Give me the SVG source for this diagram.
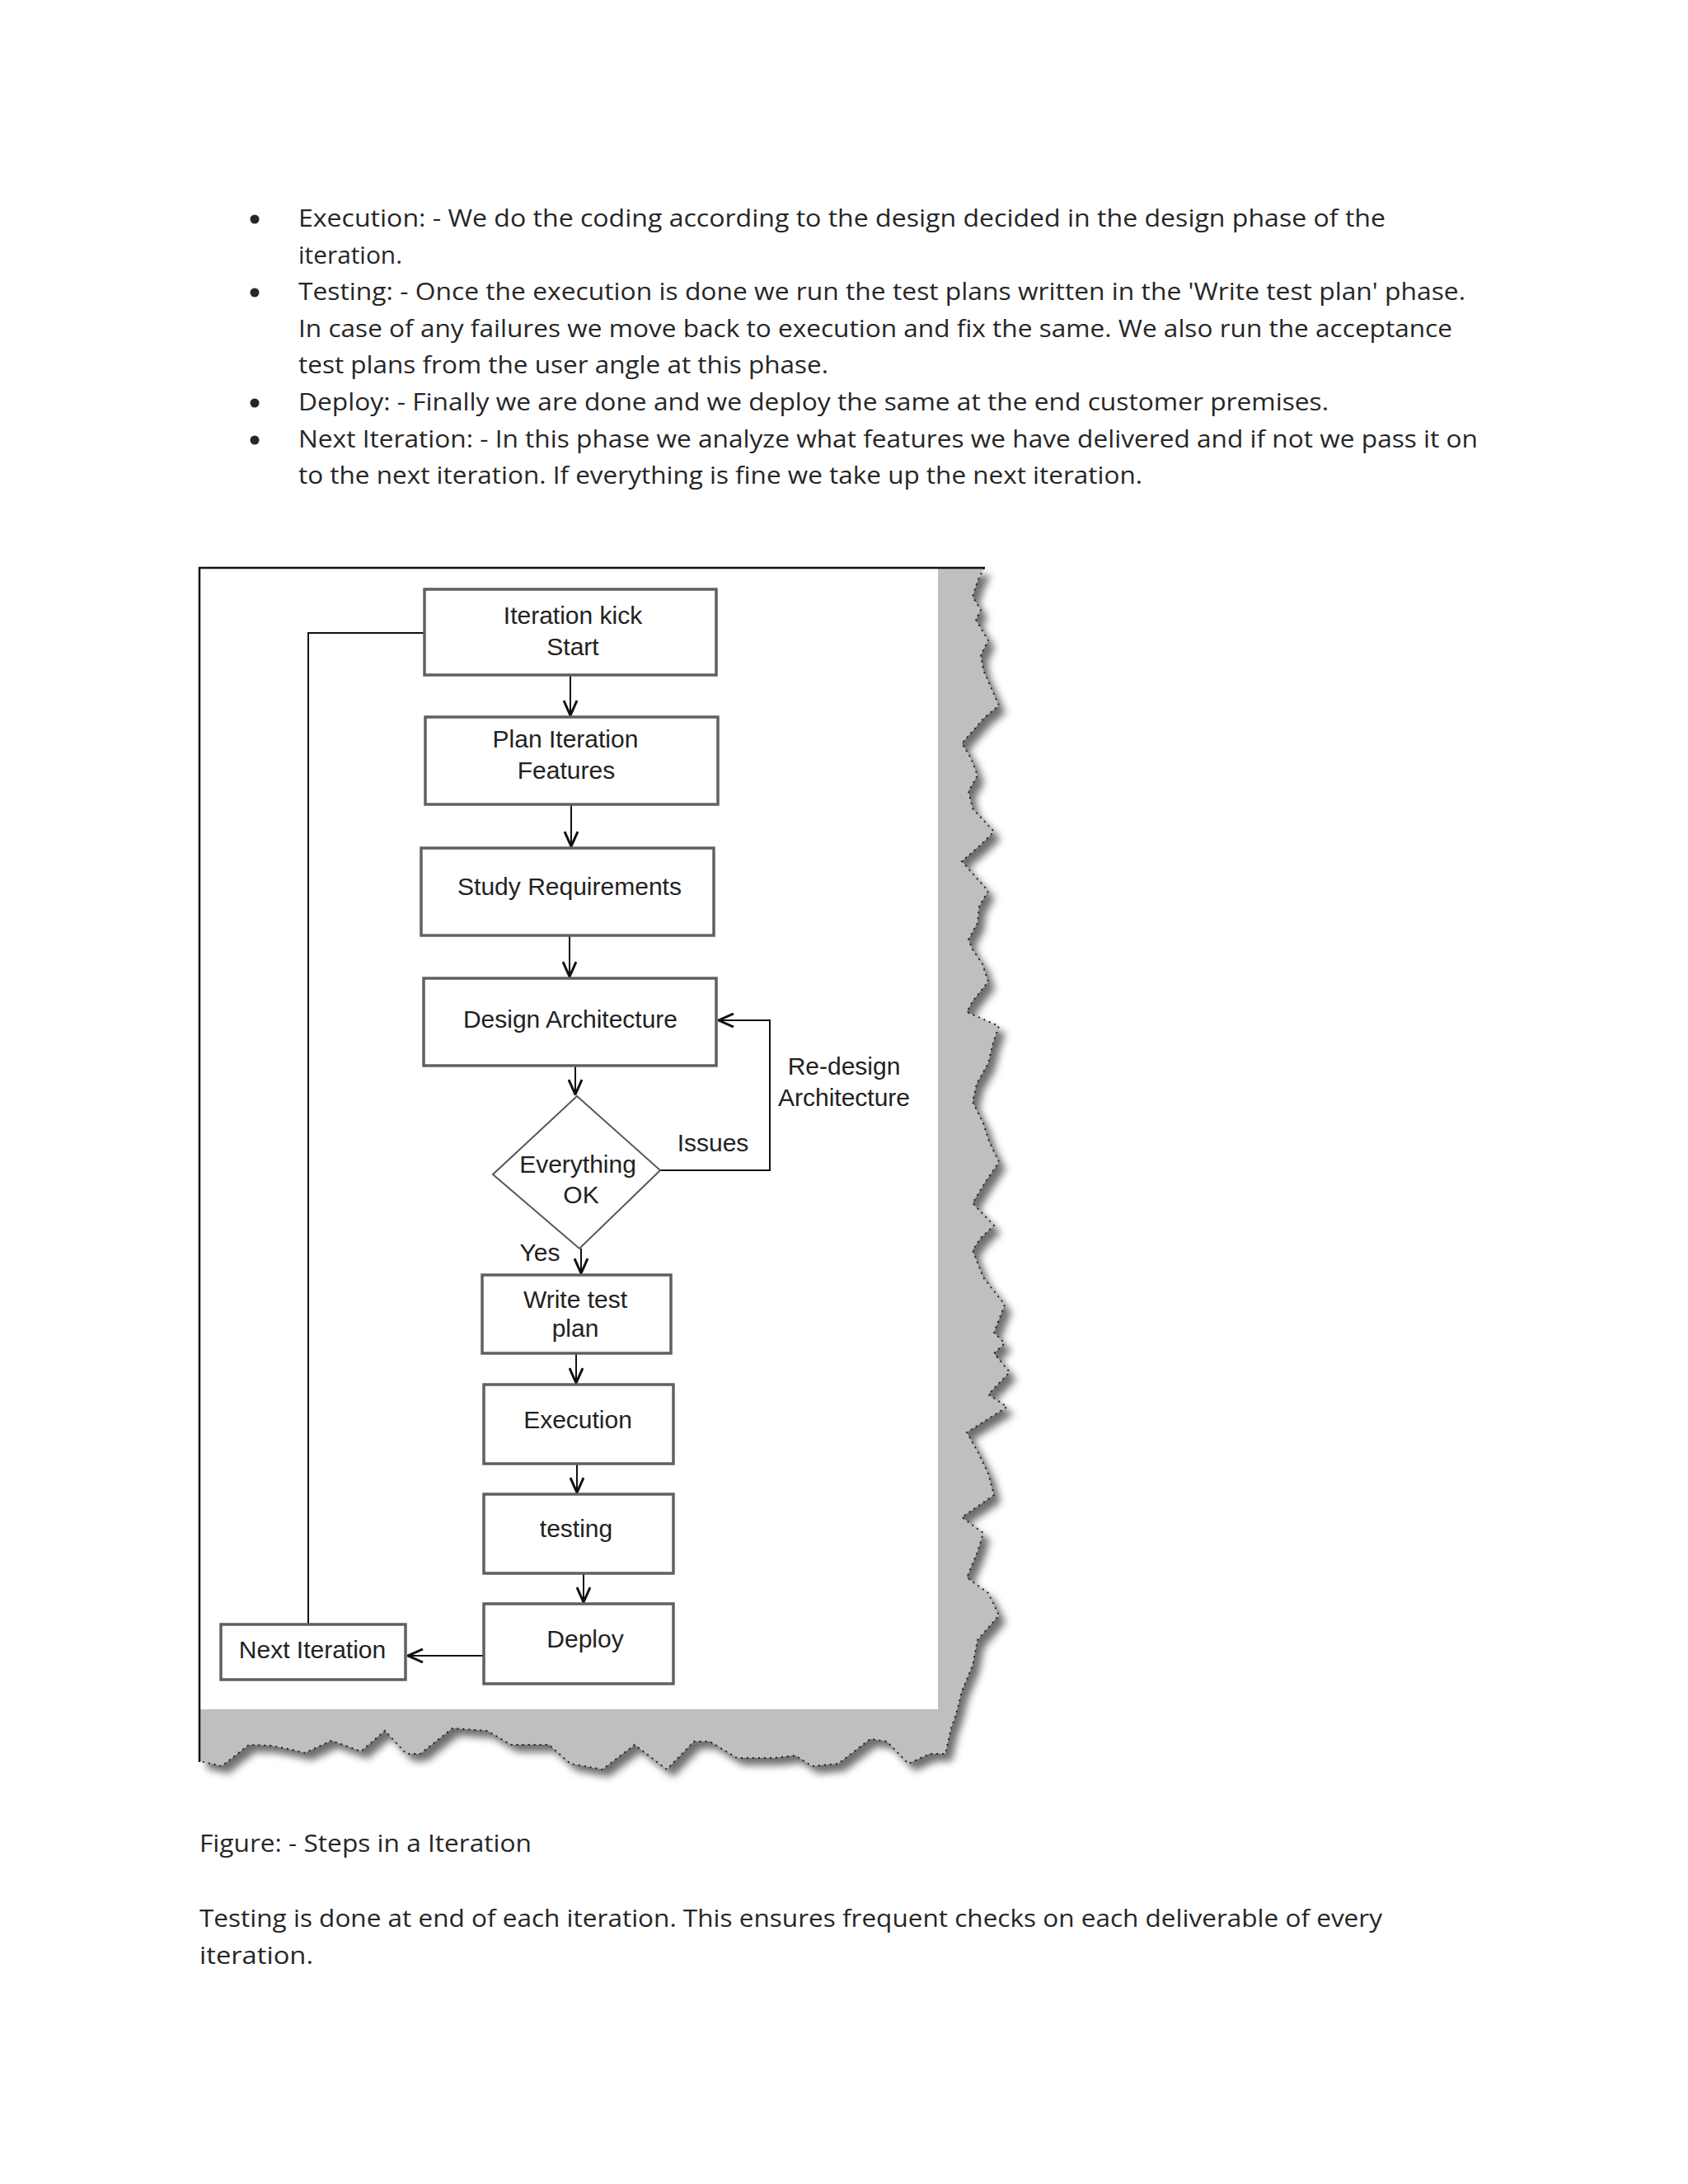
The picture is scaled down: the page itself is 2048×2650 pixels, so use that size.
<svg xmlns="http://www.w3.org/2000/svg" width="2048" height="2650" viewBox="0 0 2048 2650">
<style>
.para{font-family:"Open Sans","Noto Sans","Liberation Sans",sans-serif;font-size:29px;fill:#262626}
.lbl{font-family:"Liberation Sans",Arial,sans-serif;font-size:30px;fill:#222;text-anchor:middle}
.box{fill:#fff;stroke:#606060;stroke-width:3.5}
.dia{fill:#fff;stroke:#555;stroke-width:2}
.con{fill:none;stroke:#111;stroke-width:2}
</style>
<defs>
<marker id="ah" viewBox="0 0 20 18" refX="19" refY="9" markerWidth="20" markerHeight="18" markerUnits="userSpaceOnUse" orient="auto">
<path d="M1,1 L19,9 L1,17" fill="none" stroke="#111" stroke-width="3"/>
</marker>
<filter id="blur" x="-10%" y="-10%" width="120%" height="120%"><feGaussianBlur stdDeviation="5"/></filter>
<path id="torn" d="M242,689 L1194,689 L1186,705 L1180,724 L1190,740 L1184,752 L1199,777 L1190,795 L1193,813 L1212,856 L1195,870 L1167,902 L1178,920 L1186,941 L1175,960 L1180,981 L1206,1009 L1190,1025 L1167,1045 L1180,1060 L1199,1081 L1188,1100 L1186,1120 L1175,1140 L1180,1152 L1192,1170 L1199,1191 L1180,1215 L1173,1228 L1212,1245 L1205,1265 L1199,1290 L1185,1315 L1180,1337 L1193,1363 L1200,1385 L1212,1410 L1195,1435 L1180,1460 L1206,1487 L1190,1502 L1180,1517 L1193,1550 L1219,1583 L1206,1617 L1219,1630 L1206,1642 L1225,1665 L1199,1692 L1222,1707 L1173,1738 L1186,1761 L1199,1788 L1206,1814 L1167,1841 L1193,1860 L1186,1883 L1173,1914 L1199,1933 L1212,1960 L1186,1990 L1180,2021 L1167,2052 L1160,2080 L1154,2097 L1147,2128 L1128,2128 L1102,2140 L1076,2113 L1056,2110 L1017,2140 L985,2143 L965,2130 L939,2133 L894,2133 L861,2113 L842,2113 L809,2147 L770,2117 L731,2147 L692,2140 L666,2117 L620,2117 L591,2100 L549,2097 L510,2128 L493,2128 L467,2100 L438,2125 L402,2112 L370,2127 L354,2123 L328,2118 L302,2117 L269,2143 L243,2137 Z"/>
</defs>
<rect width="2048" height="2650" fill="#fff"/>

<g id="bullets">
<circle cx="309" cy="266" r="5.5" fill="#262626"/>
<circle cx="309" cy="355" r="5.5" fill="#262626"/>
<circle cx="309" cy="489" r="5.5" fill="#262626"/>
<circle cx="309" cy="534" r="5.5" fill="#262626"/>
<text class="para" x="362" y="275" textLength="1319" lengthAdjust="spacingAndGlyphs">Execution: - We do the coding according to the design decided in the design phase of the</text>
<text class="para" x="362" y="320" textLength="126" lengthAdjust="spacingAndGlyphs">iteration.</text>
<text class="para" x="362" y="364" textLength="1416" lengthAdjust="spacingAndGlyphs">Testing: - Once the execution is done we run the test plans written in the 'Write test plan' phase.</text>
<text class="para" x="362" y="409" textLength="1400" lengthAdjust="spacingAndGlyphs">In case of any failures we move back to execution and fix the same. We also run the acceptance</text>
<text class="para" x="362" y="453" textLength="643" lengthAdjust="spacingAndGlyphs">test plans from the user angle at this phase.</text>
<text class="para" x="362" y="498" textLength="1250" lengthAdjust="spacingAndGlyphs">Deploy: - Finally we are done and we deploy the same at the end customer premises.</text>
<text class="para" x="362" y="543" textLength="1431" lengthAdjust="spacingAndGlyphs">Next Iteration: - In this phase we analyze what features we have delivered and if not we pass it on</text>
<text class="para" x="362" y="587" textLength="1024" lengthAdjust="spacingAndGlyphs">to the next iteration. If everything is fine we take up the next iteration.</text>
</g>

<g id="frame">
<use href="#torn" transform="translate(8,9)" fill="#4a4a4a" opacity="0.8" filter="url(#blur)"/>
<use href="#torn" fill="#bfbfbf"/>
<path d="M1194,689 L1186,705 L1180,724 L1190,740 L1184,752 L1199,777 L1190,795 L1193,813 L1212,856 L1195,870 L1167,902 L1178,920 L1186,941 L1175,960 L1180,981 L1206,1009 L1190,1025 L1167,1045 L1180,1060 L1199,1081 L1188,1100 L1186,1120 L1175,1140 L1180,1152 L1192,1170 L1199,1191 L1180,1215 L1173,1228 L1212,1245 L1205,1265 L1199,1290 L1185,1315 L1180,1337 L1193,1363 L1200,1385 L1212,1410 L1195,1435 L1180,1460 L1206,1487 L1190,1502 L1180,1517 L1193,1550 L1219,1583 L1206,1617 L1219,1630 L1206,1642 L1225,1665 L1199,1692 L1222,1707 L1173,1738 L1186,1761 L1199,1788 L1206,1814 L1167,1841 L1193,1860 L1186,1883 L1173,1914 L1199,1933 L1212,1960 L1186,1990 L1180,2021 L1167,2052 L1160,2080 L1154,2097 L1147,2128 L1128,2128 L1102,2140 L1076,2113 L1056,2110 L1017,2140 L985,2143 L965,2130 L939,2133 L894,2133 L861,2113 L842,2113 L809,2147 L770,2117 L731,2147 L692,2140 L666,2117 L620,2117 L591,2100 L549,2097 L510,2128 L493,2128 L467,2100 L438,2125 L402,2112 L370,2127 L354,2123 L328,2118 L302,2117 L269,2143 L243,2137" fill="none" stroke="#222" stroke-width="2" stroke-dasharray="2 5"/>
<rect x="243" y="690" width="895" height="1384" fill="#fff"/>
<path d="M1195,689 L242,689 L242,2138" fill="none" stroke="#111" stroke-width="2.5"/>
</g>

<g id="connectors">
<line class="con" x1="692" y1="820" x2="692" y2="868" marker-end="url(#ah)"/>
<line class="con" x1="693" y1="977" x2="693" y2="1027" marker-end="url(#ah)"/>
<line class="con" x1="691" y1="1136" x2="691" y2="1185" marker-end="url(#ah)"/>
<line class="con" x1="698" y1="1294" x2="698" y2="1328" marker-end="url(#ah)"/>
<line class="con" x1="705" y1="1515" x2="705" y2="1545" marker-end="url(#ah)"/>
<line class="con" x1="699" y1="1643" x2="699" y2="1678" marker-end="url(#ah)"/>
<line class="con" x1="700" y1="1777" x2="700" y2="1811" marker-end="url(#ah)"/>
<line class="con" x1="708" y1="1910" x2="708" y2="1944" marker-end="url(#ah)"/>
<line class="con" x1="586" y1="2009" x2="495" y2="2009" marker-end="url(#ah)"/>
<polyline class="con" points="801,1420 934,1420 934,1238 872,1238" marker-end="url(#ah)"/>
<polyline class="con" points="374,1971 374,768 515,768"/>
</g>

<g id="n-kickstart"><rect class="box" x="515" y="715" width="354" height="104"/><text class="lbl" x="695" y="757">Iteration kick</text><text class="lbl" x="695" y="795">Start</text></g>
<g id="n-plan"><rect class="box" x="516" y="870" width="355" height="106"/><text class="lbl" x="686" y="907">Plan Iteration</text><text class="lbl" x="687" y="945">Features</text></g>
<g id="n-study"><rect class="box" x="511" y="1029" width="355" height="106"/><text class="lbl" x="691" y="1086">Study Requirements</text></g>
<g id="n-design"><rect class="box" x="514" y="1187" width="355" height="106"/><text class="lbl" x="692" y="1247">Design Architecture</text></g>
<g id="n-decision"><polygon class="dia" points="700,1330 801,1420 703,1515 598,1425"/><text class="lbl" x="701" y="1423">Everything</text><text class="lbl" x="705" y="1460">OK</text></g>
<g id="n-write"><rect class="box" x="585" y="1547" width="229" height="95"/><text class="lbl" x="698" y="1587">Write test</text><text class="lbl" x="698" y="1622">plan</text></g>
<g id="n-exec"><rect class="box" x="587" y="1680" width="230" height="96"/><text class="lbl" x="701" y="1733">Execution</text></g>
<g id="n-testing"><rect class="box" x="587" y="1813" width="230" height="96"/><text class="lbl" x="699" y="1865">testing</text></g>
<g id="n-deploy"><rect class="box" x="587" y="1946" width="230" height="97"/><text class="lbl" x="710" y="1999">Deploy</text></g>
<g id="n-next"><rect class="box" x="268" y="1971" width="224" height="67"/><text class="lbl" x="379" y="2012">Next Iteration</text></g>

<g id="edge-labels">
<text class="lbl" x="1024" y="1304">Re-design</text>
<text class="lbl" x="1024" y="1342">Architecture</text>
<text class="lbl" x="865" y="1397">Issues</text>
<text class="lbl" x="655" y="1530">Yes</text>
</g>

<g id="caption">
<text class="para" x="242" y="2247" textLength="403" lengthAdjust="spacingAndGlyphs">Figure: - Steps in a Iteration</text>
<text class="para" x="242" y="2338" textLength="1435" lengthAdjust="spacingAndGlyphs">Testing is done at end of each iteration. This ensures frequent checks on each deliverable of every</text>
<text class="para" x="242" y="2383" textLength="138" lengthAdjust="spacingAndGlyphs">iteration.</text>
</g>
</svg>
